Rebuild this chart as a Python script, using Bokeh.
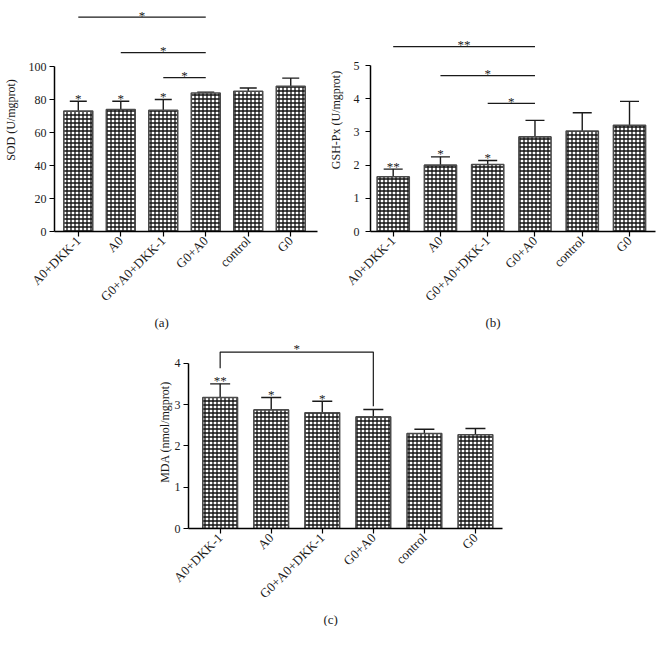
import math
from bokeh.plotting import figure
from bokeh.models import (ColumnDataSource, Whisker, TeeHead, Title, FixedTicker,
                          Range1d, Spacer)
from bokeh.layouts import row, column
from bokeh.core.properties import value
from bokeh.embed import file_html
from bokeh.resources import INLINE

groups = ["A0+DKK-1", "A0", "G0+A0+DKK-1", "G0+A0", "control", "G0"]

# (a) SOD
sod_mean = [73, 74, 73.5, 84, 85, 88]
sod_upper = [79, 79, 80, 84.5, 87, 93]
sod_stars = ["*", "*", "*", "", "", ""]
sod_cmp_from = [0, 1, 2]
sod_cmp_to = [3, 3, 3]
sod_cmp_level = [130, 108.5, 93.3]
sod_cmp_text = ["*", "*", "*"]

# (b) GSH-Px
gsh_mean = [1.65, 2.0, 2.02, 2.85, 3.03, 3.2]
gsh_upper = [1.88, 2.25, 2.14, 3.35, 3.58, 3.92]
gsh_stars = ["**", "*", "*", "", "", ""]
gsh_cmp_from = [0, 1, 2]
gsh_cmp_to = [3, 3, 3]
gsh_cmp_level = [5.57, 4.70, 3.86]
gsh_cmp_text = ["**", "*", "*"]

# (c) MDA
mda_mean = [3.17, 2.87, 2.8, 2.7, 2.3, 2.27]
mda_upper = [3.5, 3.17, 3.08, 2.88, 2.4, 2.42]
mda_stars = ["**", "*", "*", "", "", ""]
mda_bracket_x = [0, 0, 3, 3]
mda_bracket_y = [3.88, 4.27, 4.27, 2.96]
mda_bracket_text = "*"

FONT = "Liberation Serif"
INK = "#1a1a1a"


def panel(mean, upper, stars, ylabel, yend, yticks, xr, width, height,
          borders, cap_size, ylab_standoff, tick_standoff, caption, cap_offset,
          cap_standoff):
    x = list(range(len(groups)))
    src = ColumnDataSource(dict(x=x, mean=mean, upper=upper, stars=stars))
    p = figure(width=width, height=height, output_backend="svg",
               toolbar_location=None, x_range=Range1d(*xr),
               y_range=Range1d(0, yend))
    p.min_border_left, p.min_border_right, p.min_border_top, p.min_border_bottom = borders
    p.outline_line_color = None
    p.xgrid.visible = False
    p.ygrid.visible = False

    p.vbar(x="x", top="mean", bottom=0, width=0.68, source=src,
           fill_color="white", line_color="#4a4a4a", line_width=1.6,
           hatch_pattern="cross", hatch_color="#111111", hatch_scale=4,
           hatch_weight=1.3)
    w = Whisker(base="x", upper="upper", lower="mean", source=src,
                line_color=INK, line_width=1.4,
                upper_head=TeeHead(size=cap_size, line_color=INK, line_width=1.4),
                lower_head=None)
    p.add_layout(w)
    p.text(x="x", y="upper", text="stars", source=src, text_align="center",
           text_baseline="alphabetic", y_offset=-3,
           text_font=value(FONT), text_font_size="13px", text_color=INK)

    xa = p.xaxis[0]
    xa.ticker = FixedTicker(ticks=x)
    xa.major_label_overrides = {i: g for i, g in enumerate(groups)}
    xa.major_label_orientation = math.pi / 4
    xa.major_label_text_font = FONT
    xa.major_label_text_font_size = "13px"
    xa.major_label_text_color = INK
    xa.minor_tick_line_color = None
    xa.major_tick_in = 0
    xa.major_tick_out = 5
    xa.axis_line_width = 1.5
    xa.major_tick_line_width = 1.2
    xa.major_label_standoff = 2

    ya = p.yaxis[0]
    ya.ticker = FixedTicker(ticks=yticks)
    ya.bounds = (0, yticks[-1])
    ya.axis_label = ylabel
    ya.axis_label_text_font = FONT
    ya.axis_label_text_font_style = "normal"
    ya.axis_label_text_font_size = "12px"
    ya.axis_label_text_color = INK
    ya.axis_label_standoff = ylab_standoff
    ya.major_label_text_font = FONT
    ya.major_label_text_font_size = "12px"
    ya.major_label_text_color = INK
    ya.major_label_standoff = tick_standoff
    ya.minor_tick_line_color = None
    ya.major_tick_in = 0
    ya.major_tick_out = 5
    ya.axis_line_width = 1.5
    ya.major_tick_line_width = 1.2

    p.add_layout(Title(text=caption, align="left", offset=cap_offset,
                       text_font=FONT, text_font_size="13px",
                       text_font_style="normal", text_color=INK,
                       standoff=cap_standoff), "below")
    return p


def add_comparisons(p, c_from, c_to, levels, texts):
    src = ColumnDataSource(dict(x0=c_from, x1=c_to, y=levels, t=texts,
                                xm=[(a + b) / 2 for a, b in zip(c_from, c_to)]))
    p.segment(x0="x0", y0="y", x1="x1", y1="y", source=src,
              line_color=INK, line_width=1.2)
    p.text(x="xm", y="y", text="t", source=src, text_align="center",
           text_baseline="alphabetic", y_offset=-2,
           text_font=value(FONT), text_font_size="13px", text_color=INK)


pa = panel(sod_mean, sod_upper, sod_stars, "SOD (U/mgprot)", 135.2,
           [0, 20, 40, 60, 80, 100], (-0.56, 5.63), 325, 330,
           (51, 8, 8, 99), 17, 8, 3, "(a)", 100, 0)
add_comparisons(pa, sod_cmp_from, sod_cmp_to, sod_cmp_level, sod_cmp_text)

pb = panel(gsh_mean, gsh_upper, gsh_stars, "GSH-Px (U/mgprot)", 6.72,
           [0, 1, 2, 3, 4, 5], (-0.48, 5.55), 332, 330,
           (43, 2, 8, 99), 19, 8, 6, "(b)", 115, 0)
add_comparisons(pb, gsh_cmp_from, gsh_cmp_to, gsh_cmp_level, gsh_cmp_text)

pc = panel(mda_mean, mda_upper, mda_stars, "MDA (nmol/mgprot)", 4.67,
           [0, 1, 2, 3, 4], (-0.62, 5.53), 362, 296,
           (38, 10, 5, 97), 20, 0, 3, "(c)", 135, 0)
pc.multi_line(xs=[mda_bracket_x], ys=[mda_bracket_y], line_color=INK,
              line_width=1.2)
pc.text(x=[(mda_bracket_x[1] + mda_bracket_x[2]) / 2], y=[mda_bracket_y[1]],
        text=[mda_bracket_text], text_align="center", text_baseline="alphabetic",
        y_offset=-4, text_font=value(FONT), text_font_size="13px",
        text_color=INK)

layout = column(row(pa, pb), row(Spacer(width=150, height=296), pc))

open("out.html", "w").write(file_html(layout, INLINE))
